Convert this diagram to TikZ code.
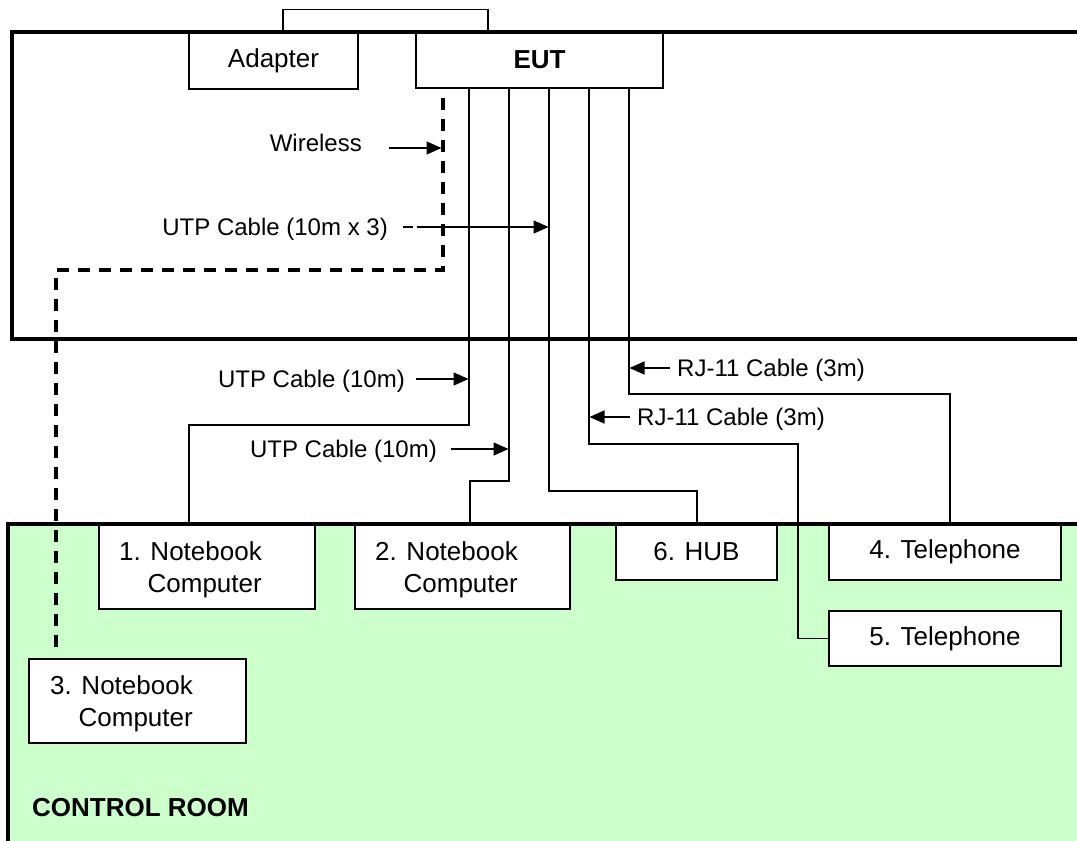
\documentclass[tikz,border=0pt]{standalone}
\usepackage{fontspec}
\setmainfont{Liberation Sans}
\usetikzlibrary{arrows.meta}
\definecolor{roomgreen}{HTML}{CCFFCC}

\begin{document}
\begin{tikzpicture}[x=1pt,y=-1pt,
  every node/.style={font=\fontsize{26}{32}\selectfont, inner sep=0pt},
  lbl/.style={font=\fontsize{24}{28}\selectfont},
  box/.style={draw, line width=1.5pt, fill=white, rectangle},
  wall/.style={line width=4.5pt, line join=miter},
  cable/.style={line width=1.5pt},
  wifi/.style={line width=3.5pt, dash pattern=on 12pt off 9pt},
  pointer/.style={line width=1.5pt, -{Triangle[length=15pt,width=13pt]}},
]
\useasboundingbox (0,0) rectangle (1077,841);

% control room floor
\fill[roomgreen] (8,524) rectangle (1090,860);

% equipment in the test room
\node[box, minimum width=169pt, minimum height=57pt] (adapter) at (273.5,60.5) {Adapter};
\node[box, minimum width=247pt, minimum height=56pt, font=\fontsize{26}{32}\selectfont\bfseries] (eut) at (539.5,60) {EUT};

% peripherals in the control room
\node[box, minimum width=216pt, minimum height=85pt] (n1) at (207,566.5) {};
\node[box, minimum width=215pt, minimum height=85pt] (n2) at (462.5,566.5) {};
\node[box, minimum width=217pt, minimum height=84pt] (n3) at (137.5,701) {};
\node[box, minimum width=161pt, minimum height=56pt] (hub) at (696.5,552) {6. HUB};
\node[box, minimum width=232pt, minimum height=56pt] (tel4) at (945,552) {4. Telephone};
\node[box, minimum width=232pt, minimum height=55pt] (tel5) at (945,638.5) {5. Telephone};

\node[align=right, anchor=east] (n1txt) at (262,570) {1. Notebook\\Computer};
\node[align=right, anchor=east] (n2txt) at (518,570) {2. Notebook\\Computer};
\node[align=right, anchor=east] (n3txt) at (193,704) {3. Notebook\\Computer};

% walls
\draw[wall] (1090,32) -- (12,32) -- (12,339) -- (1090,339);
\draw[wall] (8,860) -- (8,524) -- (1090,524);

% adapter to EUT link
\draw[cable] ([xshift=9.5pt]adapter.north) -- ++(0,-22) -| ([xshift=-51.5pt]eut.north);

% cable routes
\coordinate (c1) at (189,425);
\coordinate (c2) at (470,481);
\coordinate (c3) at (697,491);
\coordinate (c4) at (798,444);
\coordinate (c5) at (950,394);
\draw[cable] ([xshift=-70.5pt]eut.south) |- (c1) -- (c1 |- n1.north);
\draw[cable] ([xshift=-30.5pt]eut.south) |- (c2) -- (c2 |- n2.north);
\draw[cable] ([xshift=9.5pt]eut.south) |- (c3) -- (c3 |- hub.north);
\draw[cable] ([xshift=49.5pt]eut.south) |- (c4) |- (tel5.west);
\draw[cable] ([xshift=89.5pt]eut.south) |- (c5) -- (c5 |- tel4.north);

% wireless link
\coordinate (w1) at (56,270);
\coordinate (w2) at (56,650);
\draw[wifi] ([xshift=-96.5pt,yshift=-9pt]eut.south) |- (w1) -- (w2);

% labels
\node[lbl, anchor=base east] (lwl) at (362,151) {Wireless};
\node[lbl, anchor=base east] (lutp3) at (388,235) {UTP Cable (10m x 3)};
\node[lbl, anchor=base east] (lutp1) at (405,387) {UTP Cable (10m)};
\node[lbl, anchor=base east] (lutp2) at (437,457) {UTP Cable (10m)};
\node[lbl, anchor=base west] (lrj1) at (677,376) {RJ-11 Cable (3m)};
\node[lbl, anchor=base west] (lrj2) at (637,425) {RJ-11 Cable (3m)};
\node[anchor=base west, font=\fontsize{26}{32}\selectfont\bfseries] (room) at (32,816) {CONTROL ROOM};

% label pointers
\coordinate (a1s) at (389,148);  \coordinate (a1e) at (441.5,148);
\coordinate (a2s) at (403,227);  \coordinate (a2e) at (548.5,227);
\coordinate (a3s) at (416,379);  \coordinate (a3e) at (468.5,379);
\coordinate (a4s) at (451,449);  \coordinate (a4e) at (508.5,449);
\coordinate (a5s) at (670,368);  \coordinate (a5e) at (629.5,368);
\coordinate (a6s) at (630,417);  \coordinate (a6e) at (589.5,417);
\draw[pointer] (a1s) -- (a1e);
\draw[pointer, dash pattern=on 10pt off 4pt on 400pt off 10pt] (a2s) -- (a2e);
\draw[pointer] (a3s) -- (a3e);
\draw[pointer] (a4s) -- (a4e);
\draw[pointer] (a5s) -- (a5e);
\draw[pointer] (a6s) -- (a6e);
\end{tikzpicture}
\end{document}
